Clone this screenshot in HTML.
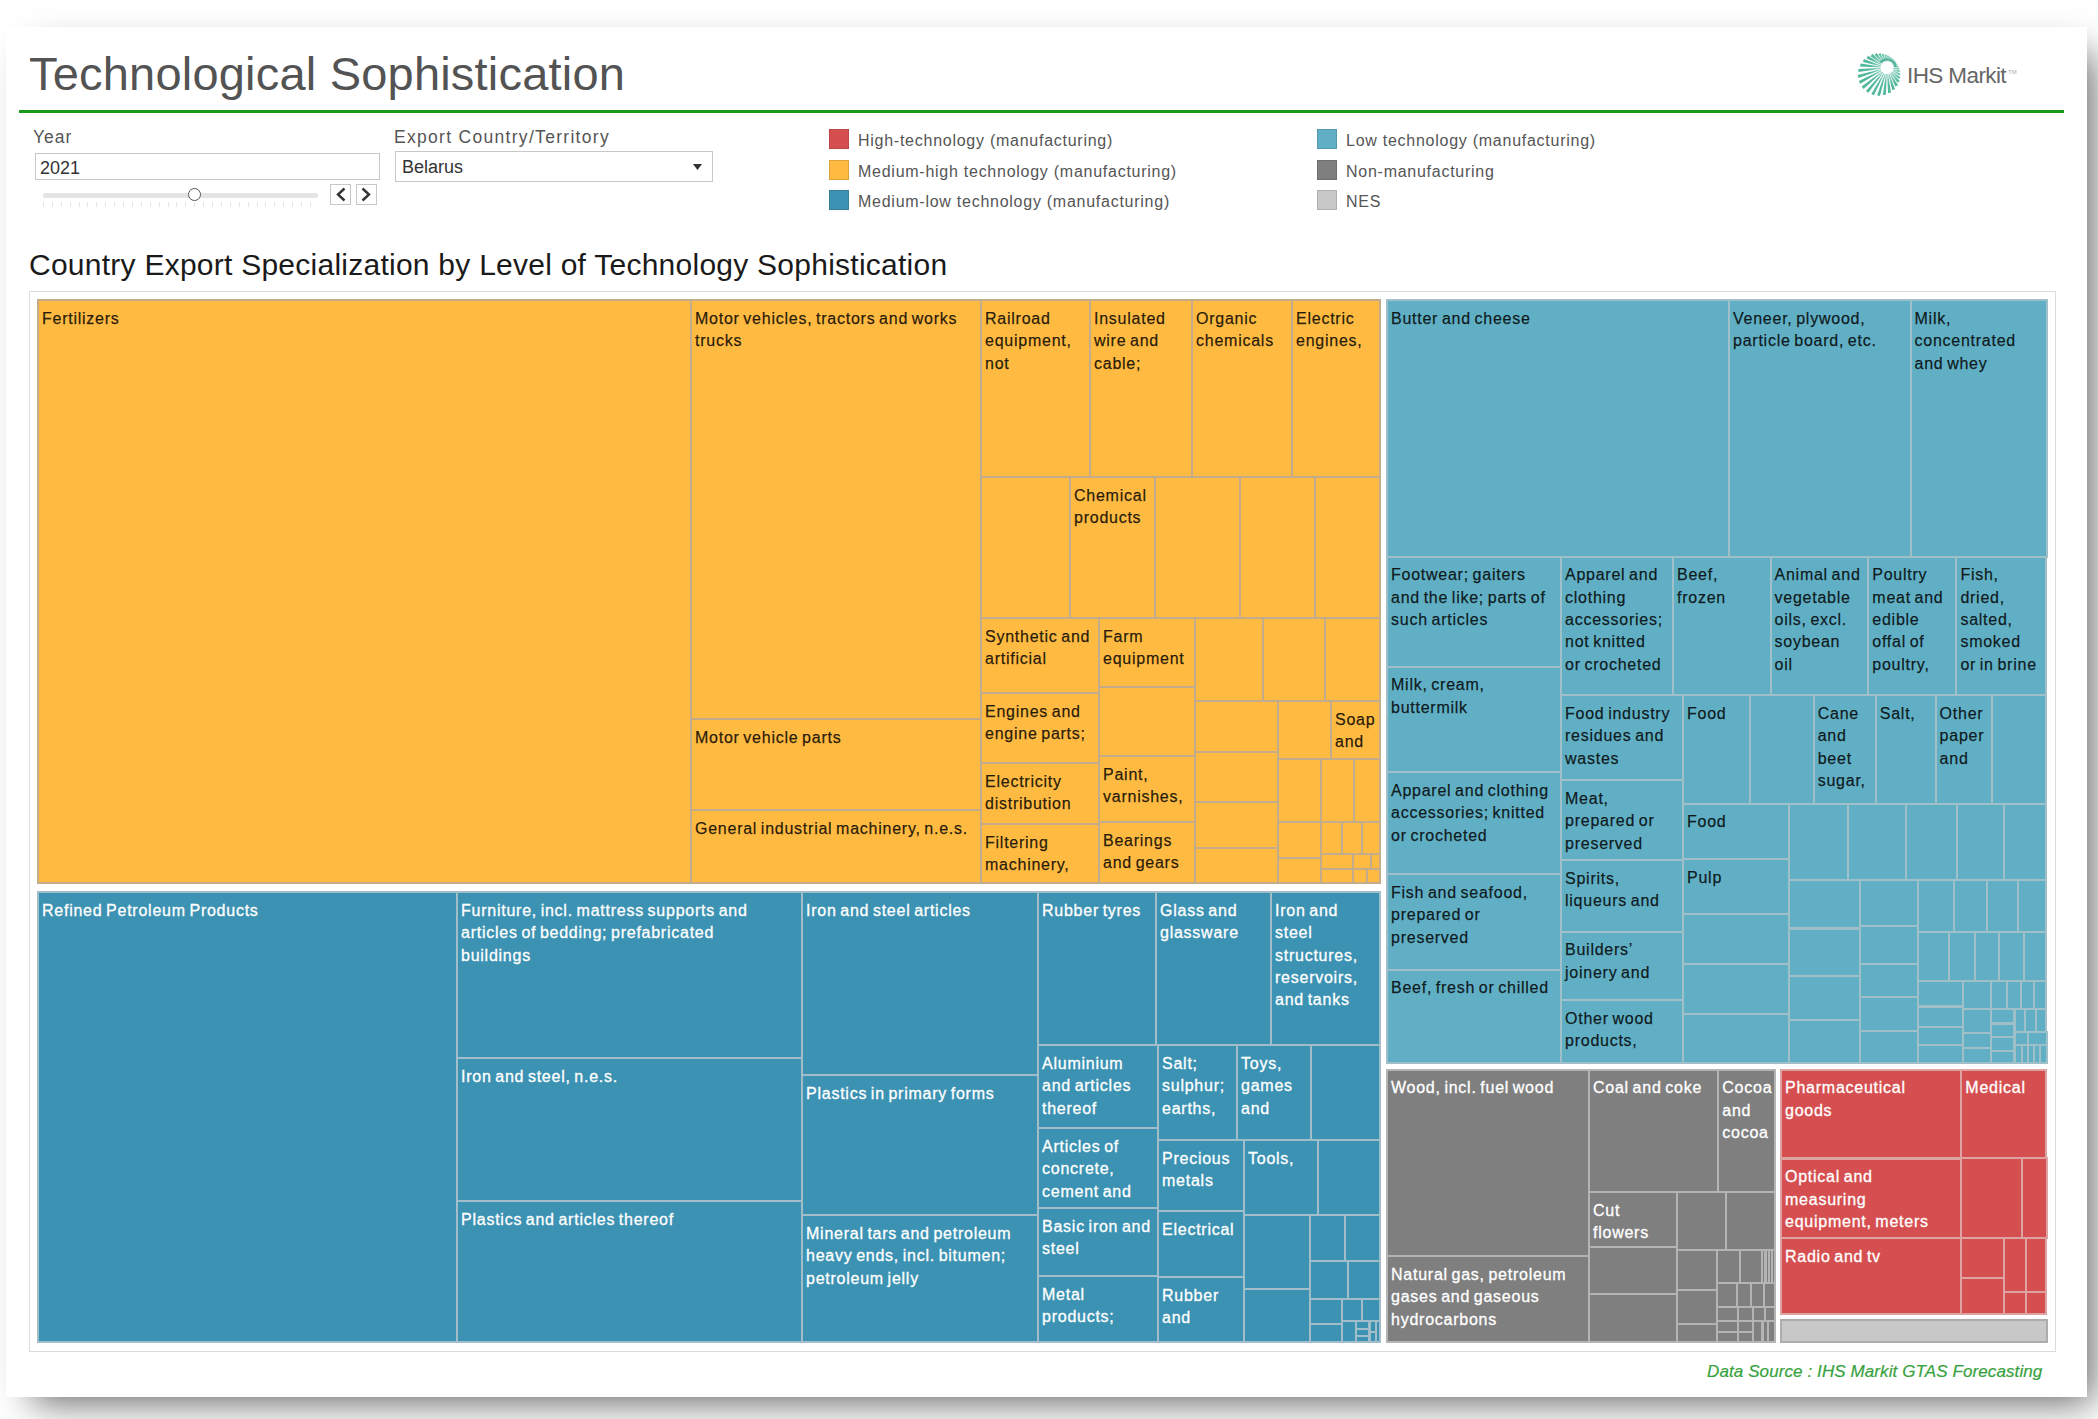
<!DOCTYPE html>
<html><head><meta charset="utf-8">
<style>
html,body{margin:0;padding:0;}
body{width:2098px;height:1419px;overflow:hidden;background:#fff;position:relative;font-family:"Liberation Sans",sans-serif;}
.abs{position:absolute;}
#card{position:absolute;left:6px;top:27px;width:2081px;height:1370px;background:#fff;box-shadow:16px 16px 36px -10px rgba(0,0,0,0.6);}
.t{position:absolute;white-space:nowrap;line-height:1;}
#title{left:29px;top:49.6px;font-size:47px;color:#535353;letter-spacing:0.2px;}
#gline{left:19px;top:110px;width:2045px;height:3px;background:#1a9a1a;}
.lbl{font-size:17.5px;color:#555;letter-spacing:1px;}
#exl{letter-spacing:1.3px;}
.val{font-size:18px;color:#333;}
.box{position:absolute;border:1px solid #c8c8c8;background:#fff;box-sizing:border-box;}
.leg{font-size:16px;color:#555;letter-spacing:0.74px;}
.sq{position:absolute;width:20px;height:20px;box-sizing:border-box;border:1px solid rgba(0,0,0,0.12);}
#sub{left:29px;top:249.5px;font-size:30px;color:#1a1a1a;letter-spacing:0.25px;}
#tmb{position:absolute;left:29px;top:291px;width:2027px;height:1061px;box-sizing:border-box;border:1px solid #dcdcdc;}
.c{position:absolute;box-sizing:border-box;border:2px solid;overflow:hidden;font-size:16px;line-height:22.4px;padding:6.7px 0 0 3px;white-space:nowrap;letter-spacing:0.75px;word-spacing:-1.5px;}
.d{color:rgba(0,0,0,0.84);-webkit-text-stroke:0.25px rgba(0,0,0,0.84);}
.w{color:#fff;-webkit-text-stroke:0.3px #fff;}
.e{padding:0;}
#src{left:1707px;top:1362.6px;font-size:17px;font-style:italic;color:#38a23e;letter-spacing:0.1px;-webkit-text-stroke:0.2px #38a23e;}
</style></head>
<body>
<div id="card"></div>
<div class="t" id="title">Technological Sophistication</div>
<!-- logo -->
<svg class="abs" style="left:1854px;top:50px" width="52" height="50" viewBox="0 0 52 50">
<defs><radialGradient id="rg" gradientUnits="userSpaceOnUse" cx="33" cy="17.7" r="30"><stop offset="0.2" stop-color="#9ad6c6"/><stop offset="0.55" stop-color="#56b99d"/><stop offset="1" stop-color="#4fb898"/></radialGradient></defs><g fill="url(#rg)"><polygon points="39.33,18.78 45.12,19.82 45.30,17.99 39.41,17.88"/><polygon points="38.99,19.99 45.49,22.54 46.07,20.62 39.26,19.13"/><polygon points="38.43,21.11 45.48,25.62 46.52,23.67 38.86,20.32"/><polygon points="37.66,22.11 44.92,29.08 46.48,27.17 38.23,21.41"/><polygon points="36.71,22.93 43.61,32.81 45.75,31.05 37.41,22.36"/><polygon points="35.62,23.56 41.39,36.58 44.04,35.17 36.41,23.13"/><polygon points="34.43,23.96 38.22,40.08 41.09,39.21 35.29,23.69"/><polygon points="33.18,24.11 33.98,42.95 36.97,42.66 34.08,24.03"/><polygon points="31.92,24.03 28.83,44.77 31.81,45.06 32.82,24.11"/><polygon points="30.71,23.69 23.10,45.16 25.97,46.03 31.57,23.96"/><polygon points="29.59,23.13 17.30,43.90 19.94,45.31 30.38,23.56"/><polygon points="28.59,22.36 11.96,40.97 14.28,42.87 29.29,22.93"/><polygon points="27.77,21.41 7.65,36.56 9.56,38.88 28.34,22.11"/><polygon points="27.14,20.32 4.79,31.08 6.21,33.72 27.57,21.11"/><polygon points="26.74,19.13 3.65,25.04 4.52,27.91 27.01,19.99"/><polygon points="26.59,17.88 4.25,19.02 4.55,22.01 26.67,18.78"/><polygon points="26.67,16.62 6.43,13.58 6.14,16.56 26.59,17.52"/><polygon points="27.01,15.41 9.84,9.11 8.96,11.98 26.74,16.27"/><polygon points="27.57,14.29 14.00,5.84 12.59,8.49 27.14,15.08"/><polygon points="28.34,13.29 18.46,3.82 16.55,6.14 27.77,13.99"/><polygon points="29.29,12.47 22.69,3.02 20.61,4.72 28.59,13.04"/><polygon points="30.38,11.84 26.52,3.04 24.41,4.17 29.59,12.27"/><polygon points="31.57,11.44 29.86,3.64 27.80,4.26 30.71,11.71"/><polygon points="32.82,11.29 32.69,4.61 30.75,4.80 31.92,11.37"/><polygon points="34.08,11.37 35.08,5.80 33.28,5.62 33.18,11.29"/><polygon points="35.29,11.71 37.09,7.13 35.47,6.64 34.43,11.44"/><polygon points="36.41,12.27 38.82,8.57 37.36,7.79 35.62,11.84"/><polygon points="37.41,13.04 40.31,10.10 39.03,9.05 36.71,12.47"/><polygon points="38.23,13.99 41.59,11.72 40.54,10.44 37.66,13.29"/><polygon points="38.86,15.08 42.71,13.45 41.93,11.99 38.43,14.29"/><polygon points="39.26,16.27 43.67,15.33 43.19,13.75 38.99,15.41"/><polygon points="39.41,17.52 44.49,17.43 44.32,15.72 39.33,16.62"/></g><path d="M26.5 12.5 A8.5 8.5 0 0 1 41.5 17" fill="none" stroke="#3da88e" stroke-width="2.2" opacity="0.8"/>
</svg>
<div class="t" style="left:1907px;top:64.6px;font-size:22.5px;color:#666;letter-spacing:-0.6px;">IHS Markit</div>
<div class="t" style="left:2008px;top:69px;font-size:6px;color:#aaa;">TM</div>
<div class="abs" id="gline"></div>

<!-- Year -->
<div class="t lbl" style="left:33px;top:129px;">Year</div>
<div class="box" style="left:35px;top:153px;width:345px;height:27px;"></div>
<div class="t val" style="left:40px;top:158.7px;">2021</div>
<div class="abs" style="left:43px;top:193px;width:275px;height:5px;background:#e4e4e4;border-radius:2px;"></div>
<div class="abs" style="left:43px;top:202px;width:276px;height:5px;background:repeating-linear-gradient(90deg,#e4e4e4 0 1px,transparent 1px 8.9px);"></div>
<div class="abs" style="left:187.5px;top:188px;width:11px;height:11px;border:1.3px solid #555;border-radius:50%;background:#fff;"></div>
<div class="box" style="left:330px;top:184px;width:21px;height:21px;"></div>
<div class="box" style="left:356px;top:184px;width:21px;height:21px;"></div>
<svg class="abs" style="left:330px;top:184px" width="47" height="21"><path d="M14.5 4.5 L8 10.5 L14.5 16.5" fill="none" stroke="#333" stroke-width="2.4"/><path d="M32.5 4.5 L39 10.5 L32.5 16.5" fill="none" stroke="#333" stroke-width="2.4"/></svg>

<!-- Export country -->
<div class="t lbl" id="exl" style="left:394px;top:129px;">Export Country/Territory</div>
<div class="box" style="left:395px;top:151px;width:318px;height:31px;"></div>
<div class="t val" style="left:402px;top:158.3px;">Belarus</div>
<svg class="abs" style="left:692px;top:163px" width="12" height="8"><path d="M1 1 L10 1 L5.5 7 Z" fill="#333"/></svg>

<!-- legend -->
<div class="sq" style="left:829px;top:129px;background:#D64F50"></div>
<div class="sq" style="left:829px;top:160px;background:#FFBA42"></div>
<div class="sq" style="left:829px;top:190px;background:#3C92B2"></div>
<div class="sq" style="left:1317px;top:129px;background:#60AFC4"></div>
<div class="sq" style="left:1317px;top:160px;background:#7F7F7F"></div>
<div class="sq" style="left:1317px;top:190px;background:#C8C8C8"></div>
<div class="t leg" style="left:858px;top:133.3px;">High-technology (manufacturing)</div>
<div class="t leg" style="left:858px;top:163.8px;">Medium-high technology (manufacturing)</div>
<div class="t leg" style="left:858px;top:194.3px;">Medium-low technology (manufacturing)</div>
<div class="t leg" style="left:1346px;top:133.3px;">Low technology (manufacturing)</div>
<div class="t leg" style="left:1346px;top:163.8px;">Non-manufacturing</div>
<div class="t leg" style="left:1346px;top:194.3px;">NES</div>

<div class="t" id="sub">Country Export Specialization by Level of Technology Sophistication</div>
<div id="tmb"></div>
<div class="c d" style="left:37px;top:299px;width:655px;height:585px;background:#FFBA42;border-color:#C2AC8C">Fertilizers</div>
<div class="c d" style="left:690px;top:299px;width:292px;height:421px;background:#FFBA42;border-color:#C2AC8C">Motor vehicles, tractors and works<br>trucks</div>
<div class="c d" style="left:690px;top:718px;width:292px;height:93px;background:#FFBA42;border-color:#C2AC8C">Motor vehicle parts</div>
<div class="c d" style="left:690px;top:809px;width:292px;height:75px;background:#FFBA42;border-color:#C2AC8C">General industrial machinery, n.e.s.</div>
<div class="c d" style="left:980px;top:299px;width:111px;height:179px;background:#FFBA42;border-color:#C2AC8C">Railroad<br>equipment,<br>not</div>
<div class="c d" style="left:1089px;top:299px;width:104px;height:179px;background:#FFBA42;border-color:#C2AC8C">Insulated<br>wire and<br>cable;</div>
<div class="c d" style="left:1191px;top:299px;width:102px;height:179px;background:#FFBA42;border-color:#C2AC8C">Organic<br>chemicals</div>
<div class="c d" style="left:1291px;top:299px;width:90px;height:179px;background:#FFBA42;border-color:#C2AC8C">Electric<br>engines,</div>
<div class="c d e" style="left:980px;top:476px;width:91px;height:143px;background:#FFBA42;border-color:#C2AC8C"></div>
<div class="c d" style="left:1069px;top:476px;width:87px;height:143px;background:#FFBA42;border-color:#C2AC8C">Chemical<br>products</div>
<div class="c d e" style="left:1154px;top:476px;width:87px;height:143px;background:#FFBA42;border-color:#C2AC8C"></div>
<div class="c d e" style="left:1239px;top:476px;width:77px;height:143px;background:#FFBA42;border-color:#C2AC8C"></div>
<div class="c d e" style="left:1314px;top:476px;width:67px;height:143px;background:#FFBA42;border-color:#C2AC8C"></div>
<div class="c d" style="left:980px;top:617px;width:120px;height:77px;background:#FFBA42;border-color:#C2AC8C">Synthetic and<br>artificial</div>
<div class="c d" style="left:980px;top:692px;width:120px;height:72px;background:#FFBA42;border-color:#C2AC8C">Engines and<br>engine parts;</div>
<div class="c d" style="left:980px;top:762px;width:120px;height:63px;background:#FFBA42;border-color:#C2AC8C">Electricity<br>distribution</div>
<div class="c d" style="left:980px;top:823px;width:120px;height:61px;background:#FFBA42;border-color:#C2AC8C">Filtering<br>machinery,</div>
<div class="c d" style="left:1098px;top:617px;width:98px;height:71px;background:#FFBA42;border-color:#C2AC8C">Farm<br>equipment</div>
<div class="c d e" style="left:1098px;top:686px;width:98px;height:71px;background:#FFBA42;border-color:#C2AC8C"></div>
<div class="c d" style="left:1098px;top:755px;width:98px;height:68px;background:#FFBA42;border-color:#C2AC8C">Paint,<br>varnishes,</div>
<div class="c d" style="left:1098px;top:821px;width:98px;height:63px;background:#FFBA42;border-color:#C2AC8C">Bearings<br>and gears</div>
<div class="c d e" style="left:1194px;top:617px;width:70px;height:85px;background:#FFBA42;border-color:#C2AC8C"></div>
<div class="c d e" style="left:1262px;top:617px;width:64px;height:85px;background:#FFBA42;border-color:#C2AC8C"></div>
<div class="c d e" style="left:1324px;top:617px;width:57px;height:85px;background:#FFBA42;border-color:#C2AC8C"></div>
<div class="c d e" style="left:1194px;top:700px;width:85px;height:53px;background:#FFBA42;border-color:#C2AC8C"></div>
<div class="c d e" style="left:1277px;top:700px;width:55px;height:60px;background:#FFBA42;border-color:#C2AC8C"></div>
<div class="c d" style="left:1330px;top:700px;width:51px;height:60px;background:#FFBA42;border-color:#C2AC8C">Soap<br>and</div>
<div class="c d e" style="left:1194px;top:751px;width:85px;height:52px;background:#FFBA42;border-color:#C2AC8C"></div>
<div class="c d e" style="left:1194px;top:801px;width:85px;height:48px;background:#FFBA42;border-color:#C2AC8C"></div>
<div class="c d e" style="left:1194px;top:847px;width:85px;height:37px;background:#FFBA42;border-color:#C2AC8C"></div>
<div class="c d e" style="left:1277px;top:758px;width:45px;height:65px;background:#FFBA42;border-color:#C2AC8C"></div>
<div class="c d e" style="left:1320px;top:758px;width:35px;height:65px;background:#FFBA42;border-color:#C2AC8C"></div>
<div class="c d e" style="left:1353px;top:758px;width:28px;height:65px;background:#FFBA42;border-color:#C2AC8C"></div>
<div class="c d e" style="left:1277px;top:821px;width:45px;height:38px;background:#FFBA42;border-color:#C2AC8C"></div>
<div class="c d e" style="left:1277px;top:857px;width:45px;height:27px;background:#FFBA42;border-color:#C2AC8C"></div>
<div class="c d e" style="left:1320px;top:821px;width:23px;height:33.5px;background:#FFBA42;border-color:#C2AC8C"></div>
<div class="c d e" style="left:1341px;top:821px;width:22px;height:33.5px;background:#FFBA42;border-color:#C2AC8C"></div>
<div class="c d e" style="left:1361px;top:821px;width:20px;height:33.5px;background:#FFBA42;border-color:#C2AC8C"></div>
<div class="c d e" style="left:1320px;top:852.5px;width:34px;height:17.5px;background:#FFBA42;border-color:#C2AC8C"></div>
<div class="c d e" style="left:1352px;top:852.5px;width:20px;height:17.5px;background:#FFBA42;border-color:#C2AC8C"></div>
<div class="c d e" style="left:1370px;top:852.5px;width:11px;height:17.5px;background:#FFBA42;border-color:#C2AC8C"></div>
<div class="c d e" style="left:1320px;top:868px;width:34px;height:16px;background:#FFBA42;border-color:#C2AC8C"></div>
<div class="c d e" style="left:1352px;top:868px;width:16px;height:16px;background:#FFBA42;border-color:#C2AC8C"></div>
<div class="c d e" style="left:1366px;top:868px;width:15px;height:16px;background:#FFBA42;border-color:#C2AC8C"></div>
<div class="c w" style="left:37px;top:891px;width:421px;height:452px;background:#3C92B2;border-color:#A0BDC9">Refined Petroleum Products</div>
<div class="c w" style="left:456px;top:891px;width:347px;height:168px;background:#3C92B2;border-color:#A0BDC9">Furniture, incl. mattress supports and<br>articles of bedding; prefabricated<br>buildings</div>
<div class="c w" style="left:456px;top:1057px;width:347px;height:145px;background:#3C92B2;border-color:#A0BDC9">Iron and steel, n.e.s.</div>
<div class="c w" style="left:456px;top:1200px;width:347px;height:143px;background:#3C92B2;border-color:#A0BDC9">Plastics and articles thereof</div>
<div class="c w" style="left:801px;top:891px;width:238px;height:185px;background:#3C92B2;border-color:#A0BDC9">Iron and steel articles</div>
<div class="c w" style="left:801px;top:1074px;width:238px;height:142px;background:#3C92B2;border-color:#A0BDC9">Plastics in primary forms</div>
<div class="c w" style="left:801px;top:1214px;width:238px;height:129px;background:#3C92B2;border-color:#A0BDC9">Mineral tars and petroleum<br>heavy ends, incl. bitumen;<br>petroleum jelly</div>
<div class="c w" style="left:1037px;top:891px;width:120px;height:155px;background:#3C92B2;border-color:#A0BDC9">Rubber tyres</div>
<div class="c w" style="left:1155px;top:891px;width:117px;height:155px;background:#3C92B2;border-color:#A0BDC9">Glass and<br>glassware</div>
<div class="c w" style="left:1270px;top:891px;width:111px;height:155px;background:#3C92B2;border-color:#A0BDC9">Iron and<br>steel<br>structures,<br>reservoirs,<br>and tanks</div>
<div class="c w" style="left:1037px;top:1044px;width:122px;height:85px;background:#3C92B2;border-color:#A0BDC9">Aluminium<br>and articles<br>thereof</div>
<div class="c w" style="left:1037px;top:1127px;width:122px;height:82px;background:#3C92B2;border-color:#A0BDC9">Articles of<br>concrete,<br>cement and</div>
<div class="c w" style="left:1037px;top:1207px;width:122px;height:70px;background:#3C92B2;border-color:#A0BDC9">Basic iron and<br>steel</div>
<div class="c w" style="left:1037px;top:1275px;width:122px;height:68px;background:#3C92B2;border-color:#A0BDC9">Metal<br>products;</div>
<div class="c w" style="left:1157px;top:1044px;width:81px;height:97px;background:#3C92B2;border-color:#A0BDC9">Salt;<br>sulphur;<br>earths,</div>
<div class="c w" style="left:1236px;top:1044px;width:76px;height:97px;background:#3C92B2;border-color:#A0BDC9">Toys,<br>games<br>and</div>
<div class="c w e" style="left:1310px;top:1044px;width:71px;height:97px;background:#3C92B2;border-color:#A0BDC9"></div>
<div class="c w" style="left:1157px;top:1139px;width:88px;height:73px;background:#3C92B2;border-color:#A0BDC9">Precious<br>metals</div>
<div class="c w" style="left:1243px;top:1139px;width:76px;height:77px;background:#3C92B2;border-color:#A0BDC9">Tools,</div>
<div class="c w e" style="left:1317px;top:1139px;width:64px;height:77px;background:#3C92B2;border-color:#A0BDC9"></div>
<div class="c w" style="left:1157px;top:1210px;width:88px;height:68px;background:#3C92B2;border-color:#A0BDC9">Electrical</div>
<div class="c w" style="left:1157px;top:1276px;width:88px;height:67px;background:#3C92B2;border-color:#A0BDC9">Rubber<br>and</div>
<div class="c w e" style="left:1243px;top:1214px;width:68px;height:76px;background:#3C92B2;border-color:#A0BDC9"></div>
<div class="c w e" style="left:1243px;top:1288px;width:68px;height:55px;background:#3C92B2;border-color:#A0BDC9"></div>
<div class="c w e" style="left:1309px;top:1214px;width:37px;height:48.4px;background:#3C92B2;border-color:#A0BDC9"></div>
<div class="c w e" style="left:1344px;top:1214px;width:37px;height:48.4px;background:#3C92B2;border-color:#A0BDC9"></div>
<div class="c w e" style="left:1309px;top:1260.4px;width:40px;height:39.9px;background:#3C92B2;border-color:#A0BDC9"></div>
<div class="c w e" style="left:1347px;top:1260.4px;width:34px;height:39.9px;background:#3C92B2;border-color:#A0BDC9"></div>
<div class="c w e" style="left:1309px;top:1298.3px;width:34px;height:26.4px;background:#3C92B2;border-color:#A0BDC9"></div>
<div class="c w e" style="left:1309px;top:1322.7px;width:34px;height:20.3px;background:#3C92B2;border-color:#A0BDC9"></div>
<div class="c w e" style="left:1341px;top:1298.3px;width:22px;height:23.7px;background:#3C92B2;border-color:#A0BDC9"></div>
<div class="c w e" style="left:1361px;top:1298.3px;width:20px;height:23.7px;background:#3C92B2;border-color:#A0BDC9"></div>
<div class="c w e" style="left:1341px;top:1320px;width:15.7px;height:23px;background:#3C92B2;border-color:#A0BDC9"></div>
<div class="c w e" style="left:1354.7px;top:1320px;width:15.8px;height:9.5px;background:#3C92B2;border-color:#A0BDC9"></div>
<div class="c w e" style="left:1354.7px;top:1327.5px;width:15.8px;height:9.5px;background:#3C92B2;border-color:#A0BDC9"></div>
<div class="c w e" style="left:1354.7px;top:1335px;width:15.8px;height:8px;background:#3C92B2;border-color:#A0BDC9"></div>
<div class="c w e" style="left:1368.5px;top:1320px;width:8.2px;height:12.8px;background:#3C92B2;border-color:#A0BDC9"></div>
<div class="c w e" style="left:1368.5px;top:1330.8px;width:8.2px;height:12.2px;background:#3C92B2;border-color:#A0BDC9"></div>
<div class="c w e" style="left:1374.7px;top:1320px;width:6.3px;height:23px;background:#3C92B2;border-color:#A0BDC9"></div>
<div class="c d" style="left:1386px;top:299px;width:344px;height:258.5px;background:#60AFC4;border-color:#9FC0C9">Butter and cheese</div>
<div class="c d" style="left:1728px;top:299px;width:183.5px;height:258.5px;background:#60AFC4;border-color:#9FC0C9">Veneer, plywood,<br>particle board, etc.</div>
<div class="c d" style="left:1909.5px;top:299px;width:138px;height:258.5px;background:#60AFC4;border-color:#9FC0C9">Milk,<br>concentrated<br>and whey</div>
<div class="c d" style="left:1386px;top:555.5px;width:176px;height:112px;background:#60AFC4;border-color:#9FC0C9">Footwear; gaiters<br>and the like; parts of<br>such articles</div>
<div class="c d" style="left:1386px;top:665.5px;width:176px;height:107.5px;background:#60AFC4;border-color:#9FC0C9">Milk, cream,<br>buttermilk</div>
<div class="c d" style="left:1386px;top:771px;width:176px;height:104px;background:#60AFC4;border-color:#9FC0C9">Apparel and clothing<br>accessories; knitted<br>or crocheted</div>
<div class="c d" style="left:1386px;top:873px;width:176px;height:97.5px;background:#60AFC4;border-color:#9FC0C9">Fish and seafood,<br>prepared or<br>preserved</div>
<div class="c d" style="left:1386px;top:968.5px;width:176px;height:95.2px;background:#60AFC4;border-color:#9FC0C9">Beef, fresh or chilled</div>
<div class="c d" style="left:1560px;top:555.5px;width:114px;height:140.5px;background:#60AFC4;border-color:#9FC0C9">Apparel and<br>clothing<br>accessories;<br>not knitted<br>or crocheted</div>
<div class="c d" style="left:1672px;top:555.5px;width:99.5px;height:140.5px;background:#60AFC4;border-color:#9FC0C9">Beef,<br>frozen</div>
<div class="c d" style="left:1769.5px;top:555.5px;width:99.8px;height:140.5px;background:#60AFC4;border-color:#9FC0C9">Animal and<br>vegetable<br>oils, excl.<br>soybean<br>oil</div>
<div class="c d" style="left:1867.3px;top:555.5px;width:90.1px;height:140.5px;background:#60AFC4;border-color:#9FC0C9">Poultry<br>meat and<br>edible<br>offal of<br>poultry,</div>
<div class="c d" style="left:1955.4px;top:555.5px;width:92.1px;height:140.5px;background:#60AFC4;border-color:#9FC0C9">Fish,<br>dried,<br>salted,<br>smoked<br>or in brine</div>
<div class="c d" style="left:1560px;top:694px;width:124px;height:87px;background:#60AFC4;border-color:#9FC0C9">Food industry<br>residues and<br>wastes</div>
<div class="c d" style="left:1560px;top:779px;width:124px;height:82px;background:#60AFC4;border-color:#9FC0C9">Meat,<br>prepared or<br>preserved</div>
<div class="c d" style="left:1560px;top:859px;width:124px;height:73.5px;background:#60AFC4;border-color:#9FC0C9">Spirits,<br>liqueurs and</div>
<div class="c d" style="left:1560px;top:930.5px;width:124px;height:70.5px;background:#60AFC4;border-color:#9FC0C9">Builders’<br>joinery and</div>
<div class="c d" style="left:1560px;top:999px;width:124px;height:64.7px;background:#60AFC4;border-color:#9FC0C9">Other wood<br>products,</div>
<div class="c d" style="left:1682px;top:694px;width:68.5px;height:110.5px;background:#60AFC4;border-color:#9FC0C9">Food</div>
<div class="c d e" style="left:1748.5px;top:694px;width:66.2px;height:110.5px;background:#60AFC4;border-color:#9FC0C9"></div>
<div class="c d" style="left:1812.7px;top:694px;width:64.1px;height:110.5px;background:#60AFC4;border-color:#9FC0C9">Cane<br>and<br>beet<br>sugar,</div>
<div class="c d" style="left:1874.8px;top:694px;width:61.8px;height:110.5px;background:#60AFC4;border-color:#9FC0C9">Salt,</div>
<div class="c d" style="left:1934.6px;top:694px;width:58.2px;height:110.5px;background:#60AFC4;border-color:#9FC0C9">Other<br>paper<br>and</div>
<div class="c d e" style="left:1990.8px;top:694px;width:56.7px;height:110.5px;background:#60AFC4;border-color:#9FC0C9"></div>
<div class="c d" style="left:1682px;top:802.5px;width:107.5px;height:57.5px;background:#60AFC4;border-color:#9FC0C9">Food</div>
<div class="c d" style="left:1682px;top:858px;width:107.5px;height:56.7px;background:#60AFC4;border-color:#9FC0C9">Pulp</div>
<div class="c d e" style="left:1682px;top:912.7px;width:107.5px;height:52.1px;background:#60AFC4;border-color:#9FC0C9"></div>
<div class="c d e" style="left:1682px;top:962.8px;width:107.5px;height:52.2px;background:#60AFC4;border-color:#9FC0C9"></div>
<div class="c d e" style="left:1682px;top:1013px;width:107.5px;height:50.7px;background:#60AFC4;border-color:#9FC0C9"></div>
<div class="c d e" style="left:1787.5px;top:802.5px;width:61.5px;height:78.3px;background:#60AFC4;border-color:#9FC0C9"></div>
<div class="c d e" style="left:1847px;top:802.5px;width:60px;height:78.3px;background:#60AFC4;border-color:#9FC0C9"></div>
<div class="c d e" style="left:1905px;top:802.5px;width:53px;height:78.3px;background:#60AFC4;border-color:#9FC0C9"></div>
<div class="c d e" style="left:1956px;top:802.5px;width:48.8px;height:78.3px;background:#60AFC4;border-color:#9FC0C9"></div>
<div class="c d e" style="left:2002.8px;top:802.5px;width:44.7px;height:78.3px;background:#60AFC4;border-color:#9FC0C9"></div>
<div class="c d e" style="left:1787.5px;top:878.8px;width:73.1px;height:50.7px;background:#60AFC4;border-color:#9FC0C9"></div>
<div class="c d e" style="left:1787.5px;top:927.5px;width:73.1px;height:49.8px;background:#60AFC4;border-color:#9FC0C9"></div>
<div class="c d e" style="left:1787.5px;top:975.3px;width:73.1px;height:45.7px;background:#60AFC4;border-color:#9FC0C9"></div>
<div class="c d e" style="left:1787.5px;top:1019px;width:73.1px;height:44.7px;background:#60AFC4;border-color:#9FC0C9"></div>
<div class="c d e" style="left:1858.6px;top:878.8px;width:60.4px;height:48.4px;background:#60AFC4;border-color:#9FC0C9"></div>
<div class="c d e" style="left:1858.6px;top:925.2px;width:60.4px;height:39.6px;background:#60AFC4;border-color:#9FC0C9"></div>
<div class="c d e" style="left:1858.6px;top:962.8px;width:60.4px;height:35.4px;background:#60AFC4;border-color:#9FC0C9"></div>
<div class="c d e" style="left:1858.6px;top:996.2px;width:60.4px;height:35.8px;background:#60AFC4;border-color:#9FC0C9"></div>
<div class="c d e" style="left:1858.6px;top:1030px;width:60.4px;height:33.7px;background:#60AFC4;border-color:#9FC0C9"></div>
<div class="c d e" style="left:1917px;top:878.8px;width:37.7px;height:54px;background:#60AFC4;border-color:#9FC0C9"></div>
<div class="c d e" style="left:1952.7px;top:878.8px;width:35.3px;height:54px;background:#60AFC4;border-color:#9FC0C9"></div>
<div class="c d e" style="left:1986px;top:878.8px;width:33.2px;height:54px;background:#60AFC4;border-color:#9FC0C9"></div>
<div class="c d e" style="left:2017.2px;top:878.8px;width:30.3px;height:54px;background:#60AFC4;border-color:#9FC0C9"></div>
<div class="c d e" style="left:1917px;top:930.8px;width:32.7px;height:51px;background:#60AFC4;border-color:#9FC0C9"></div>
<div class="c d e" style="left:1947.7px;top:930.8px;width:28.4px;height:51px;background:#60AFC4;border-color:#9FC0C9"></div>
<div class="c d e" style="left:1974.1px;top:930.8px;width:26.2px;height:51px;background:#60AFC4;border-color:#9FC0C9"></div>
<div class="c d e" style="left:1998.3px;top:930.8px;width:26.5px;height:51px;background:#60AFC4;border-color:#9FC0C9"></div>
<div class="c d e" style="left:2022.8px;top:930.8px;width:24.7px;height:51px;background:#60AFC4;border-color:#9FC0C9"></div>
<div class="c d e" style="left:1917px;top:979.8px;width:47px;height:27.7px;background:#60AFC4;border-color:#9FC0C9"></div>
<div class="c d e" style="left:1917px;top:1005.5px;width:47px;height:22px;background:#60AFC4;border-color:#9FC0C9"></div>
<div class="c d e" style="left:1917px;top:1025.5px;width:47px;height:20.3px;background:#60AFC4;border-color:#9FC0C9"></div>
<div class="c d e" style="left:1917px;top:1043.8px;width:47px;height:19.9px;background:#60AFC4;border-color:#9FC0C9"></div>
<div class="c d e" style="left:1962px;top:979.8px;width:30.2px;height:29.8px;background:#60AFC4;border-color:#9FC0C9"></div>
<div class="c d e" style="left:1962px;top:1007.6px;width:30.2px;height:26px;background:#60AFC4;border-color:#9FC0C9"></div>
<div class="c d e" style="left:1962px;top:1031.6px;width:30.2px;height:17.5px;background:#60AFC4;border-color:#9FC0C9"></div>
<div class="c d e" style="left:1962px;top:1047.1px;width:30.2px;height:16.6px;background:#60AFC4;border-color:#9FC0C9"></div>
<div class="c d e" style="left:1990.2px;top:979.8px;width:17.9px;height:29.8px;background:#60AFC4;border-color:#9FC0C9"></div>
<div class="c d e" style="left:2006.1px;top:979.8px;width:15.5px;height:29.8px;background:#60AFC4;border-color:#9FC0C9"></div>
<div class="c d e" style="left:2019.6px;top:979.8px;width:15.2px;height:29.8px;background:#60AFC4;border-color:#9FC0C9"></div>
<div class="c d e" style="left:2032.8px;top:979.8px;width:14.7px;height:29.8px;background:#60AFC4;border-color:#9FC0C9"></div>
<div class="c d e" style="left:1990.2px;top:1007.6px;width:25.3px;height:16.9px;background:#60AFC4;border-color:#9FC0C9"></div>
<div class="c d e" style="left:1990.2px;top:1022.5px;width:25.3px;height:15.5px;background:#60AFC4;border-color:#9FC0C9"></div>
<div class="c d e" style="left:1990.2px;top:1036px;width:25.3px;height:16.2px;background:#60AFC4;border-color:#9FC0C9"></div>
<div class="c d e" style="left:1990.2px;top:1050.2px;width:25.3px;height:13.5px;background:#60AFC4;border-color:#9FC0C9"></div>
<div class="c d e" style="left:2013.5px;top:1007.6px;width:12.5px;height:25px;background:#60AFC4;border-color:#9FC0C9"></div>
<div class="c d e" style="left:2024px;top:1007.6px;width:12.8px;height:25px;background:#60AFC4;border-color:#9FC0C9"></div>
<div class="c d e" style="left:2034.8px;top:1007.6px;width:12.7px;height:25px;background:#60AFC4;border-color:#9FC0C9"></div>
<div class="c d e" style="left:2013.5px;top:1030.6px;width:15.5px;height:15.2px;background:#60AFC4;border-color:#9FC0C9"></div>
<div class="c d e" style="left:2027px;top:1030.6px;width:20.5px;height:15.2px;background:#60AFC4;border-color:#9FC0C9"></div>
<div class="c d e" style="left:2013.5px;top:1043.8px;width:9.5px;height:19.9px;background:#60AFC4;border-color:#9FC0C9"></div>
<div class="c d e" style="left:2021px;top:1043.8px;width:8px;height:19.9px;background:#60AFC4;border-color:#9FC0C9"></div>
<div class="c d e" style="left:2027px;top:1043.8px;width:8px;height:19.9px;background:#60AFC4;border-color:#9FC0C9"></div>
<div class="c d e" style="left:2033px;top:1043.8px;width:8px;height:19.9px;background:#60AFC4;border-color:#9FC0C9"></div>
<div class="c d e" style="left:2039px;top:1043.8px;width:8.5px;height:19.9px;background:#60AFC4;border-color:#9FC0C9"></div>
<div class="c w" style="left:1386px;top:1068.8px;width:204px;height:188.2px;background:#7F7F7F;border-color:#B4B4B4">Wood, incl. fuel wood</div>
<div class="c w" style="left:1386px;top:1255px;width:204px;height:88px;background:#7F7F7F;border-color:#B4B4B4">Natural gas, petroleum<br>gases and gaseous<br>hydrocarbons</div>
<div class="c w" style="left:1588px;top:1068.8px;width:131.3px;height:124.2px;background:#7F7F7F;border-color:#B4B4B4">Coal and coke</div>
<div class="c w" style="left:1717.3px;top:1068.8px;width:59.1px;height:124.2px;background:#7F7F7F;border-color:#B4B4B4">Cocoa<br>and<br>cocoa</div>
<div class="c w" style="left:1588px;top:1191px;width:89.5px;height:57px;background:#7F7F7F;border-color:#B4B4B4">Cut<br>flowers</div>
<div class="c w e" style="left:1675.5px;top:1191px;width:51.2px;height:60px;background:#7F7F7F;border-color:#B4B4B4"></div>
<div class="c w e" style="left:1724.7px;top:1191px;width:51.7px;height:60px;background:#7F7F7F;border-color:#B4B4B4"></div>
<div class="c w e" style="left:1588px;top:1246px;width:89.5px;height:49.3px;background:#7F7F7F;border-color:#B4B4B4"></div>
<div class="c w e" style="left:1588px;top:1293.3px;width:89.5px;height:49.7px;background:#7F7F7F;border-color:#B4B4B4"></div>
<div class="c w e" style="left:1675.5px;top:1249px;width:42.1px;height:42px;background:#7F7F7F;border-color:#B4B4B4"></div>
<div class="c w e" style="left:1675.5px;top:1289px;width:42.1px;height:36px;background:#7F7F7F;border-color:#B4B4B4"></div>
<div class="c w e" style="left:1675.5px;top:1323px;width:42.1px;height:20px;background:#7F7F7F;border-color:#B4B4B4"></div>
<div class="c w e" style="left:1715.6px;top:1249px;width:25.4px;height:34.5px;background:#7F7F7F;border-color:#B4B4B4"></div>
<div class="c w e" style="left:1739px;top:1249px;width:23.6px;height:34.5px;background:#7F7F7F;border-color:#B4B4B4"></div>
<div class="c w e" style="left:1760.6px;top:1249px;width:5.9px;height:34.5px;background:#7F7F7F;border-color:#B4B4B4"></div>
<div class="c w e" style="left:1764.5px;top:1249px;width:5.3px;height:34.5px;background:#7F7F7F;border-color:#B4B4B4"></div>
<div class="c w e" style="left:1767.8px;top:1249px;width:5.2px;height:34.5px;background:#7F7F7F;border-color:#B4B4B4"></div>
<div class="c w e" style="left:1771px;top:1249px;width:5.4px;height:34.5px;background:#7F7F7F;border-color:#B4B4B4"></div>
<div class="c w e" style="left:1715.6px;top:1281.5px;width:22.4px;height:26.5px;background:#7F7F7F;border-color:#B4B4B4"></div>
<div class="c w e" style="left:1736px;top:1281.5px;width:15.5px;height:26.5px;background:#7F7F7F;border-color:#B4B4B4"></div>
<div class="c w e" style="left:1749.5px;top:1281.5px;width:15.3px;height:26.5px;background:#7F7F7F;border-color:#B4B4B4"></div>
<div class="c w e" style="left:1762.8px;top:1281.5px;width:13.6px;height:26.5px;background:#7F7F7F;border-color:#B4B4B4"></div>
<div class="c w e" style="left:1715.6px;top:1306px;width:23.8px;height:16px;background:#7F7F7F;border-color:#B4B4B4"></div>
<div class="c w e" style="left:1737.4px;top:1306px;width:16.8px;height:16px;background:#7F7F7F;border-color:#B4B4B4"></div>
<div class="c w e" style="left:1752.2px;top:1306px;width:13.7px;height:16px;background:#7F7F7F;border-color:#B4B4B4"></div>
<div class="c w e" style="left:1763.9px;top:1306px;width:12.5px;height:16px;background:#7F7F7F;border-color:#B4B4B4"></div>
<div class="c w e" style="left:1715.6px;top:1320px;width:23.8px;height:12.8px;background:#7F7F7F;border-color:#B4B4B4"></div>
<div class="c w e" style="left:1715.6px;top:1330.8px;width:23.8px;height:12.2px;background:#7F7F7F;border-color:#B4B4B4"></div>
<div class="c w e" style="left:1737.4px;top:1320px;width:16.8px;height:12.8px;background:#7F7F7F;border-color:#B4B4B4"></div>
<div class="c w e" style="left:1737.4px;top:1330.8px;width:16.8px;height:12.2px;background:#7F7F7F;border-color:#B4B4B4"></div>
<div class="c w e" style="left:1752.2px;top:1320px;width:11.3px;height:23px;background:#7F7F7F;border-color:#B4B4B4"></div>
<div class="c w e" style="left:1761.5px;top:1320px;width:7.5px;height:23px;background:#7F7F7F;border-color:#B4B4B4"></div>
<div class="c w e" style="left:1767px;top:1320px;width:9.4px;height:23px;background:#7F7F7F;border-color:#B4B4B4"></div>
<div class="c w" style="left:1780px;top:1068.8px;width:182.3px;height:90.7px;background:#D64F50;border-color:#DDA2A2">Pharmaceutical<br>goods</div>
<div class="c w" style="left:1960.3px;top:1068.8px;width:87.2px;height:90.2px;background:#D64F50;border-color:#DDA2A2">Medical</div>
<div class="c w" style="left:1780px;top:1157.5px;width:182.3px;height:81.7px;background:#D64F50;border-color:#DDA2A2">Optical and<br>measuring<br>equipment, meters</div>
<div class="c w" style="left:1780px;top:1237.2px;width:182.3px;height:77.4px;background:#D64F50;border-color:#DDA2A2">Radio and tv</div>
<div class="c w e" style="left:1960.3px;top:1157px;width:62.7px;height:82.2px;background:#D64F50;border-color:#DDA2A2"></div>
<div class="c w e" style="left:2021px;top:1157px;width:26.5px;height:82.2px;background:#D64F50;border-color:#DDA2A2"></div>
<div class="c w e" style="left:1960.3px;top:1237.2px;width:44.3px;height:41.5px;background:#D64F50;border-color:#DDA2A2"></div>
<div class="c w e" style="left:1960.3px;top:1276.7px;width:44.3px;height:37.9px;background:#D64F50;border-color:#DDA2A2"></div>
<div class="c w e" style="left:2002.6px;top:1237.2px;width:24.2px;height:55.8px;background:#D64F50;border-color:#DDA2A2"></div>
<div class="c w e" style="left:2002.6px;top:1291px;width:24.2px;height:23.6px;background:#D64F50;border-color:#DDA2A2"></div>
<div class="c w e" style="left:2024.8px;top:1237.2px;width:22.7px;height:55.8px;background:#D64F50;border-color:#DDA2A2"></div>
<div class="c w e" style="left:2024.8px;top:1291px;width:22.7px;height:23.6px;background:#D64F50;border-color:#DDA2A2"></div>
<div class="c d e" style="left:1780px;top:1319.4px;width:267.5px;height:23.8px;background:#C8C8C8;border-color:#ADADAD"></div>
<div class="t" id="src">Data Source : IHS Markit GTAS Forecasting</div>
</body></html>
